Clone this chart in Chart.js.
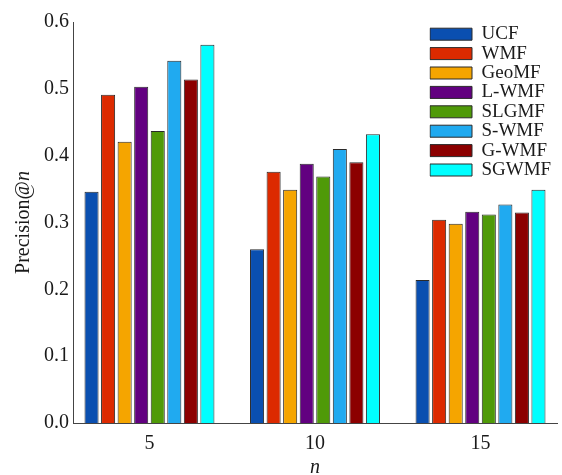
<!DOCTYPE html>
<html>
<head>
<meta charset="utf-8">
<script src="https://cdn.jsdelivr.net/npm/chart.js@4/dist/chart.umd.min.js"></script>
<style>
  html, body { margin: 0; padding: 0; background: #ffffff; }
  #wrap { width: 562px; height: 475px; }
</style>
</head>
<body>
<div id="wrap"><canvas id="c" width="562" height="475"></canvas></div>
<script>
// ---- data ----
const categories = [5, 10, 15];
const seriesNames = ['UCF', 'WMF', 'GeoMF', 'L-WMF', 'SLGMF', 'S-WMF', 'G-WMF', 'SGWMF'];
const UCF   = [0.346, 0.260, 0.214];
const WMF   = [0.491, 0.376, 0.304];
const GeoMF = [0.421, 0.349, 0.298];
const LWMF  = [0.503, 0.388, 0.316];
const SLGMF = [0.437, 0.369, 0.312];
const SWMF  = [0.542, 0.410, 0.327];
const GWMF  = [0.514, 0.390, 0.315];
const SGWMF = [0.566, 0.432, 0.349];
const yTicks = [0.0, 0.1, 0.2, 0.3, 0.4, 0.5, 0.6];

const seriesValues = [UCF, WMF, GeoMF, LWMF, SLGMF, SWMF, GWMF, SGWMF];
const colors = ['#0a4fb0', '#dc2a00', '#f5a500', '#620080', '#4f9a08', '#20aaf0', '#8c0000', '#00ffff'];

const FONT = 'Liberation Serif, Times New Roman, serif';

const datasets = seriesNames.map((name, i) => ({
  label: name,
  data: categories.map((c, j) => ({ x: c, y: seriesValues[i][j] })),
  backgroundColor: colors[i],
  borderColor: '#2a2a2a',
  borderWidth: 1,
  categoryPercentage: 0.8,
  barPercentage: 0.85
}));

const legendPlacer = {
  id: 'legendPlacer',
  afterLayout(chart) {
    const l = chart.legend;
    if (!l) return;
    l.left = 429.6;
    l.top = 24.3;
    l.right = l.left + l.width;
    l.bottom = l.top + 300;
  }
};

const yTitle = {
  id: 'yTitle',
  afterDraw(chart) {
    const ctx = chart.ctx;
    ctx.save();
    ctx.translate(24, (chart.chartArea.top + chart.chartArea.bottom) / 2);
    ctx.rotate(-Math.PI / 2);
    ctx.fillStyle = '#1a1a1a';
    ctx.textBaseline = 'middle';
    ctx.textAlign = 'left';
    const a = 'Precision@', b = 'n';
    ctx.font = '20px ' + FONT;
    const w1 = ctx.measureText(a).width;
    ctx.font = 'italic 20px ' + FONT;
    const w2 = ctx.measureText(b).width;
    const x0 = -(w1 + w2) / 2;
    ctx.font = '20px ' + FONT;
    ctx.fillText(a, x0, 0);
    ctx.font = 'italic 20px ' + FONT;
    ctx.fillText(b, x0 + w1, 0);
    ctx.restore();
  }
};

new Chart(document.getElementById('c'), {
  type: 'bar',
  data: { datasets },
  plugins: [legendPlacer, yTitle],
  options: {
    responsive: false,
    animation: false,
    devicePixelRatio: 1,
    layout: { padding: { top: 22, right: 5, bottom: 0, left: 0 } },
    plugins: {
      legend: {
        position: 'chartArea',
        align: 'start',
        labels: {
          boxWidth: 42,
          boxHeight: 12,
          padding: 0.4,
          color: '#1a1a1a',
          font: { family: FONT, size: 19 }
        }
      },
      tooltip: { enabled: false }
    },
    scales: {
      x: {
        type: 'linear',
        offset: false,
        min: 2.69,
        max: 17.31,
        afterBuildTicks(scale) {
          scale.ticks = categories.map(v => ({ value: v }));
        },
        afterFit(scale) { scale.height = 52; },
        grid: { display: false, drawTicks: false, offset: false },
        border: { display: true, color: '#444444', width: 1 },
        ticks: {
          padding: 9,
          color: '#1a1a1a',
          font: { family: FONT, size: 20 },
          callback: (v) => String(v)
        },
        title: {
          display: true,
          text: 'n',
          color: '#1a1a1a',
          font: { family: FONT, size: 20, style: 'italic', lineHeight: 0.7 },
          padding: { top: 0, bottom: 0 }
        }
      },
      y: {
        min: 0,
        max: 0.6,
        afterBuildTicks(scale) {
          scale.ticks = yTicks.map(v => ({ value: v }));
        },
        afterFit(scale) { scale.width = 73; },
        grid: { display: false, drawTicks: false },
        border: { display: true, color: '#444444', width: 1 },
        ticks: {
          padding: 4,
          color: '#1a1a1a',
          font: { family: FONT, size: 20 },
          callback: (v) => Number(v).toFixed(1)
        }
      }
    }
  }
});
</script>
</body>
</html>
